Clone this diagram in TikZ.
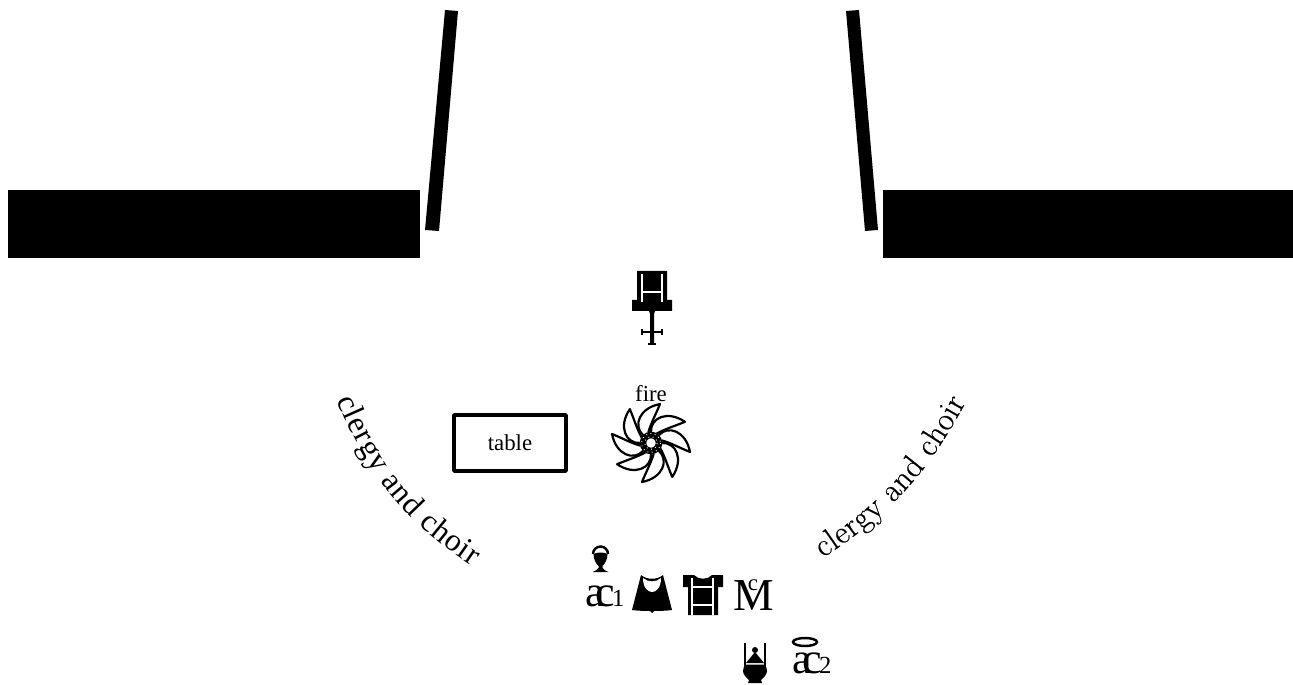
\documentclass[tikz,border=0pt]{standalone}
\usepackage{fontspec}
\setmainfont{Liberation Serif}
\newfontfamily\cmfont{Latin Modern Roman}[FakeBold=0.4]
\usetikzlibrary{decorations.text}
\tikzset{
    block/.style={rectangle, fill=black, inner sep=0pt, minimum height=1.36cm},
    tablebox/.style={rectangle, draw=black, line width=2pt, line join=round, minimum width=2.24cm, minimum height=1.12cm, font=\fontsize{13}{13}\selectfont},
    label/.style={font=\fontsize{13}{13}\selectfont, inner sep=0pt},
    server/.style={font=\fontsize{25}{25}\selectfont, inner sep=0pt, anchor=base west},
    throne/.pic={
        \fill (-15,-40) -- (15,-40) -- (15,-11) -- (20,-11) -- (20,0) -- (3,0) -- (2,3) -- (2,33) -- (-2,33) -- (-2,3) -- (-3,0) -- (-20,0) -- (-20,-11) -- (-15,-11) -- cycle;
        \draw[white, line width=0.7pt] (-10,-37) -- (-10,-9) (10,-37) -- (10,-9) (-10,-19) -- (10,-19);
        \draw[line width=1.1pt] (-9,21) -- (9,21);
        \draw[line width=0.8pt] (-10,18) -- (-10,24) (10,18) -- (10,24) (-4,33) -- (4,33);
    },
    flame/.pic={
        \foreach \a in {-13,32,77,122,167,212,257,302} {
            \draw[line width=1.25pt, line join=round, fill=white, yscale=-1] (\a+58:11) .. controls (\a+60:25) and (\a+32:37) .. (\a:40) .. controls (\a+4:28) and (\a+13:20) .. (\a+27:11);
        }
        \fill[white] (0,0) circle (11);
        \draw[line width=3.7pt] (0,0) circle (8);
        \draw[white, line width=0.5pt, dotted] (0,0) circle (6.2);
        \draw[white, line width=0.5pt, dotted] (0,0) circle (9.5);
    },
    chalice/.pic={
        \draw[line width=1.4pt] (-7.5,0) arc (180:360:7.5 and 7.5);
        \fill (-7,0) .. controls (-3,-2) and (3,-2) .. (7,0) .. controls (7,6) and (4,10) .. (2,12) -- (2,14) .. controls (3,16) and (6,17) .. (8,18) -- (-8,18) .. controls (-6,17) and (-3,16) .. (-2,14) -- (-2,12) .. controls (-4,10) and (-7,6) .. (-7,0) -- cycle;
    },
    cope/.pic={
        \fill (-11,-18) .. controls (-5,-13) and (5,-13) .. (11,-18) -- (20,17) .. controls (12,18) and (6,18) .. (2,18) -- (0,20) -- (-2,18) .. controls (-6,18) and (-12,18) .. (-20,17) -- cycle;
        \fill[white] (-9,-15) .. controls (-4,-10.5) and (4,-10.5) .. (9,-15) .. controls (9,-5) and (4,-1) .. (0,-1) .. controls (-4,-1) and (-9,-5) .. (-9,-15) -- cycle;
    },
    tunic/.pic={
        \fill (-20,-20) -- (-9,-20) .. controls (-5,-15) and (5,-15) .. (9,-20) -- (20,-20) -- (20,-8) -- (15,-8) -- (15,20) -- (-15,20) -- (-15,-8) -- (-20,-8) -- cycle;
        \draw[white, line width=0.6pt] (-11,-17) -- (-11,20) (10,-17) -- (10,20) (-11,-8) -- (10,-8) (-11,10) -- (10,10);
    },
    censer/.pic={
        \draw[line width=1.1pt] (-10,-20) -- (-10,8) (10,-20) -- (10,8);
        \fill (0,-13) circle (3);
        \fill (0,-11) -- (9,0) -- (-9,0) -- cycle;
        \fill (-9,1.5) -- (9,1.5) .. controls (11,3) and (12,5) .. (12,8) .. controls (12,12) and (8,15) .. (6,17) -- (7,20) -- (-7,20) -- (-6,17) .. controls (-8,15) and (-12,12) .. (-12,8) .. controls (-12,5) and (-11,3) .. (-9,1.5) -- cycle;
    }
}
\begin{document}
\begin{tikzpicture}[x=0.02cm, y=-0.02cm]
    \useasboundingbox (0,0) rectangle (1293,685);
    % walls
    \node (leftblock) [block, minimum width=8.24cm] at (214,224) {};
    \node (rightblock) [block, minimum width=8.2cm] at (1088,224) {};
    \fill (445,10) -- (458,11) -- (439,231) -- (425,230) -- cycle;
    \fill (846,11) -- (859,10) -- (878,230) -- (865,231) -- cycle;

    \pic at (652,311) {throne};
    \node (fire) [label] at (651,394) {fire};
    \pic at (651,443) {flame};
    \node (table) [tablebox] at (510,443) {table};

    % clergy
    \coordinate (leftstart) at (337,400);
    \coordinate (leftend) at (472,566);
    \coordinate (rightstart) at (823,558);
    \coordinate (rightend) at (966,402);
    \path[decorate, decoration={text along path, text align={fit to path}, text={|\fontsize{18}{18}\selectfont|clergy and choir}}] (leftstart) to[bend right=17] (leftend);
    \path[decorate, decoration={text along path, text align={fit to path}, text={|\cmfont\fontsize{18.5}{18.5}\selectfont|clergy and choir}}] (rightstart) to[bend right=14] (rightend);

    % servers
    \pic at (600.5,554) {chalice};
    \node (acone) [server] at (585,606) {a\kern-5.5pt c\kern-1.5pt{\fontsize{14}{14}\selectfont 1}};
    \pic at (652,593) {cope};
    \pic at (703,595) {tunic};
    \node (mtwo) [server, font=\fontsize{26}{26}\selectfont] at (733,610) {M};
    \node (mc) [label] at (753,585) {c};
    \pic at (755,663) {censer};
    \draw[line width=1.4pt] (805,642) ellipse (12 and 4);
    \node (actwo) [server] at (792,673) {a\kern-5.5pt c\kern-1.5pt{\fontsize{14}{14}\selectfont 2}};
\end{tikzpicture}
\end{document}
